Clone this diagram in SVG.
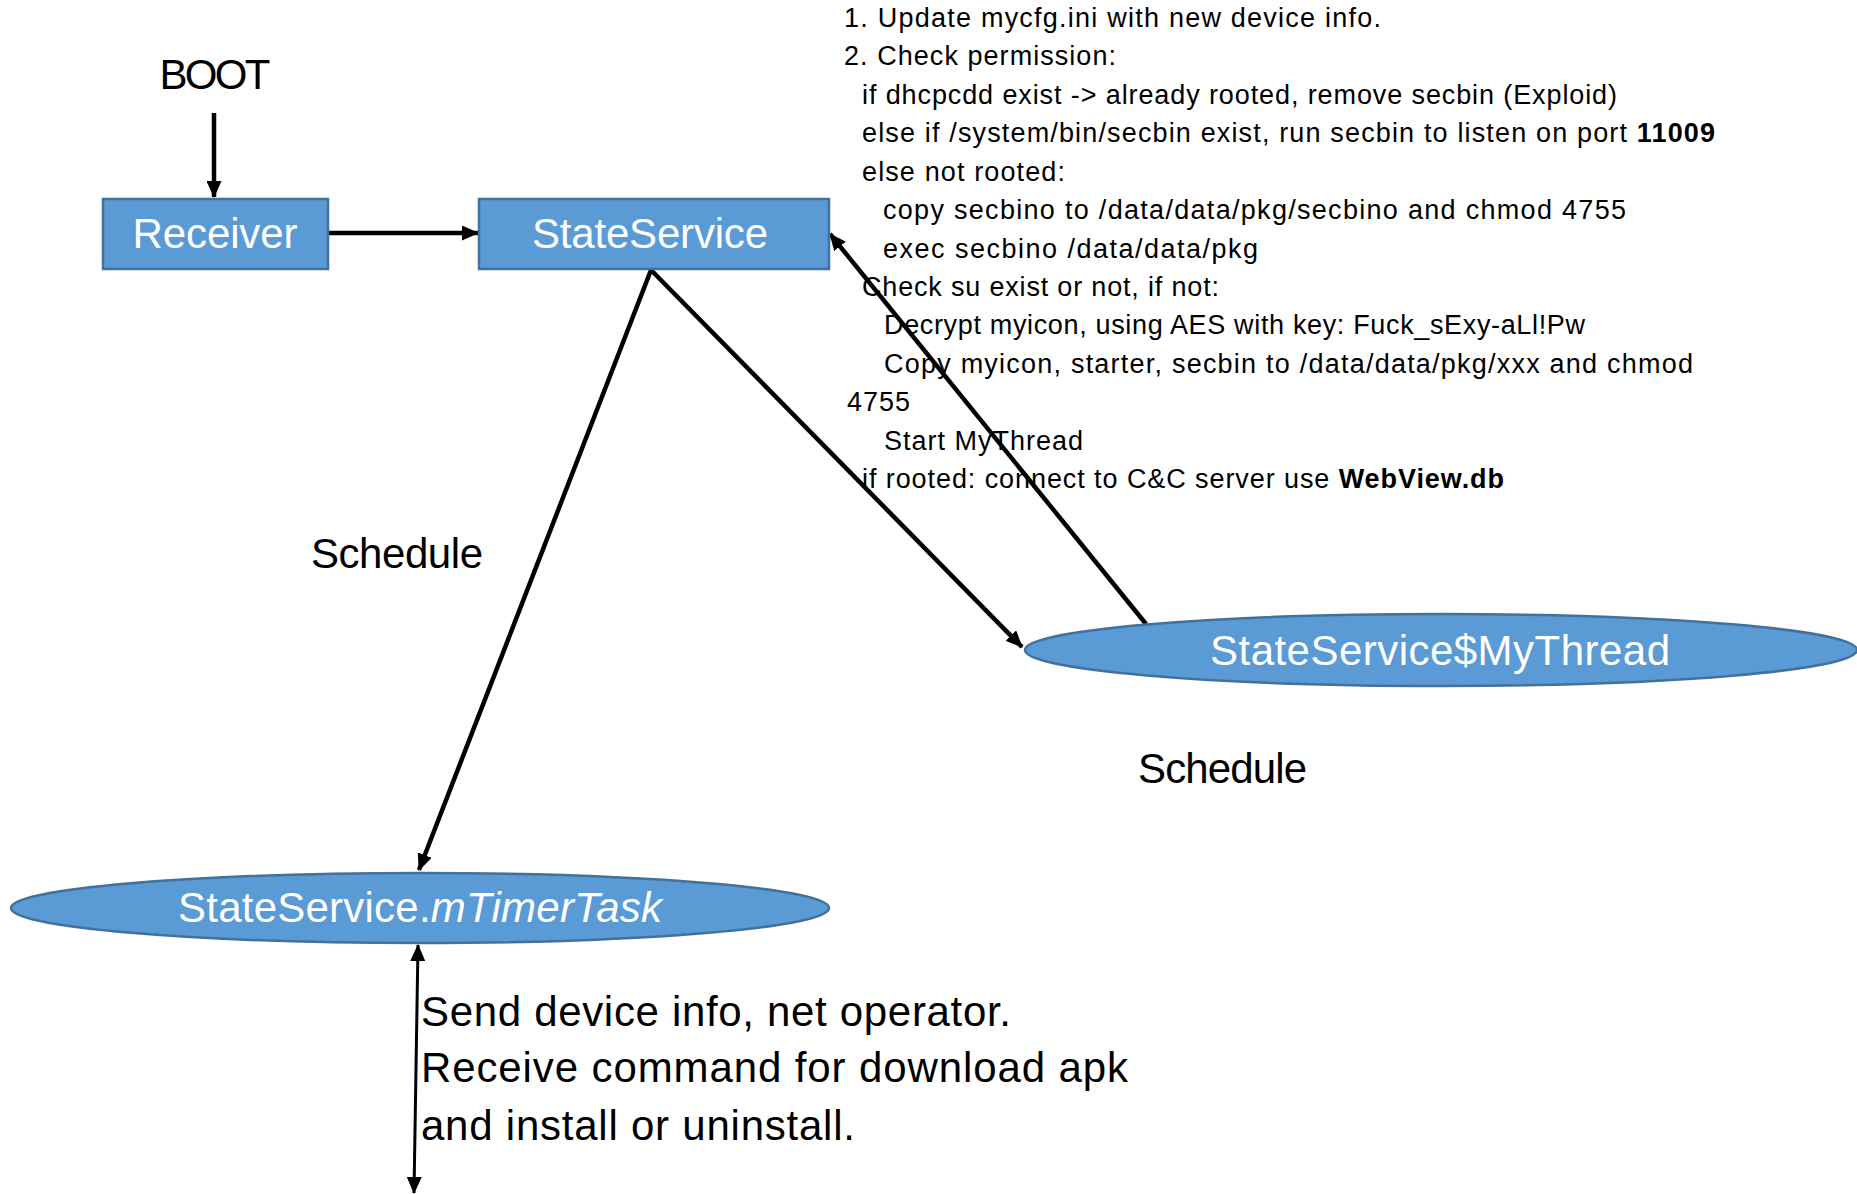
<svg xmlns="http://www.w3.org/2000/svg" width="1857" height="1194" viewBox="0 0 1857 1194">
  <style>
    .node { fill: #5B9BD5; stroke: #41719C; stroke-width: 2.5; }
    .ntext { font-family: "Liberation Sans", Arial, sans-serif; font-size: 42px; fill: #FFFFFF; text-anchor: middle; }
    .label { font-family: "Liberation Sans", Arial, sans-serif; font-size: 42px; fill: #000000; }
    .note { font-family: "Liberation Sans", Arial, sans-serif; font-size: 27px; fill: #000000; }
    .conn { stroke: #000000; stroke-width: 4.5; fill: none; }
    .thin { stroke-width: 3; }
    .bold { font-weight: bold; }
  </style>
  <defs>
    <marker id="arrow" markerUnits="userSpaceOnUse" markerWidth="17" markerHeight="15" refX="16" refY="7.5" orient="auto-start-reverse">
      <path d="M0,0 L17,7.5 L0,15 z" fill="#000000"/>
    </marker>
  </defs>

  <rect width="1857" height="1194" fill="#FFFFFF"/>

  <g id="connectors">
    <line class="conn" x1="214" y1="113" x2="214" y2="197" marker-end="url(#arrow)"/>
    <line class="conn" x1="327" y1="233" x2="478" y2="233" marker-end="url(#arrow)"/>
    <line class="conn" x1="651" y1="270" x2="419" y2="870" marker-end="url(#arrow)"/>
    <line class="conn" x1="651" y1="270" x2="1022" y2="647" marker-end="url(#arrow)"/>
    <line class="conn" x1="1146" y1="624" x2="830" y2="234" marker-end="url(#arrow)"/>
    <line class="conn thin" x1="418" y1="945" x2="414" y2="1193" marker-start="url(#arrow)" marker-end="url(#arrow)"/>
  </g>

  <g id="boot">
    <text class="label" x="215" y="89" text-anchor="middle" font-size="40" textLength="111">BOOT</text>
  </g>

  <g id="receiver">
    <rect class="node" x="103" y="199" width="225" height="70"/>
    <text class="ntext" x="215" y="248" textLength="165">Receiver</text>
  </g>

  <g id="stateservice">
    <rect class="node" x="479" y="199" width="350" height="70"/>
    <text class="ntext" x="650" y="248" textLength="236">StateService</text>
  </g>

  <g id="mythread">
    <ellipse class="node" cx="1441" cy="650" rx="416" ry="36"/>
    <text class="ntext" x="1440" y="665" textLength="460">StateService$MyThread</text>
  </g>

  <g id="mtimertask">
    <ellipse class="node" cx="420" cy="908" rx="409" ry="35"/>
    <text class="ntext" x="420" y="922" textLength="484">StateService.<tspan font-style="italic">mTimerTask</tspan></text>
  </g>

  <g id="schedule-labels">
    <text class="label" x="311" y="568" textLength="172">Schedule</text>
    <text class="label" x="1138" y="783" textLength="169">Schedule</text>
  </g>

  <g id="notes">
    <text class="note" x="844" y="27" textLength="537">1. Update mycfg.ini with new device info.</text>
    <text class="note" x="844" y="65" textLength="272">2. Check permission:</text>
    <text class="note" x="862" y="104" textLength="755">if dhcpcdd exist -&gt; already rooted, remove secbin (Exploid)</text>
    <text class="note" x="862" y="142" textLength="853">else if /system/bin/secbin exist, run secbin to listen on port <tspan class="bold">11009</tspan></text>
    <text class="note" x="862" y="181" textLength="203">else not rooted:</text>
    <text class="note" x="883" y="219" textLength="743">copy secbino to /data/data/pkg/secbino and chmod 4755</text>
    <text class="note" x="883" y="258" textLength="375">exec secbino /data/data/pkg</text>
    <text class="note" x="862" y="296" textLength="357">Check su exist or not, if not:</text>
    <text class="note" x="884" y="334" textLength="701">Decrypt myicon, using AES with key: Fuck_sExy-aLl!Pw</text>
    <text class="note" x="884" y="373" textLength="809">Copy myicon, starter, secbin to /data/data/pkg/xxx and chmod</text>
    <text class="note" x="847" y="411" textLength="63">4755</text>
    <text class="note" x="884" y="450" textLength="199">Start MyThread</text>
    <text class="note" x="862" y="488" textLength="642">if rooted: connect to C&amp;C server use <tspan class="bold">WebView.db</tspan></text>
  </g>

  <g id="comm-label">
    <text class="label" x="421" y="1026" textLength="590">Send device info, net operator.</text>
    <text class="label" x="421" y="1082" textLength="707">Receive command for download apk</text>
    <text class="label" x="421" y="1140" textLength="434">and install or uninstall.</text>
  </g>
</svg>
